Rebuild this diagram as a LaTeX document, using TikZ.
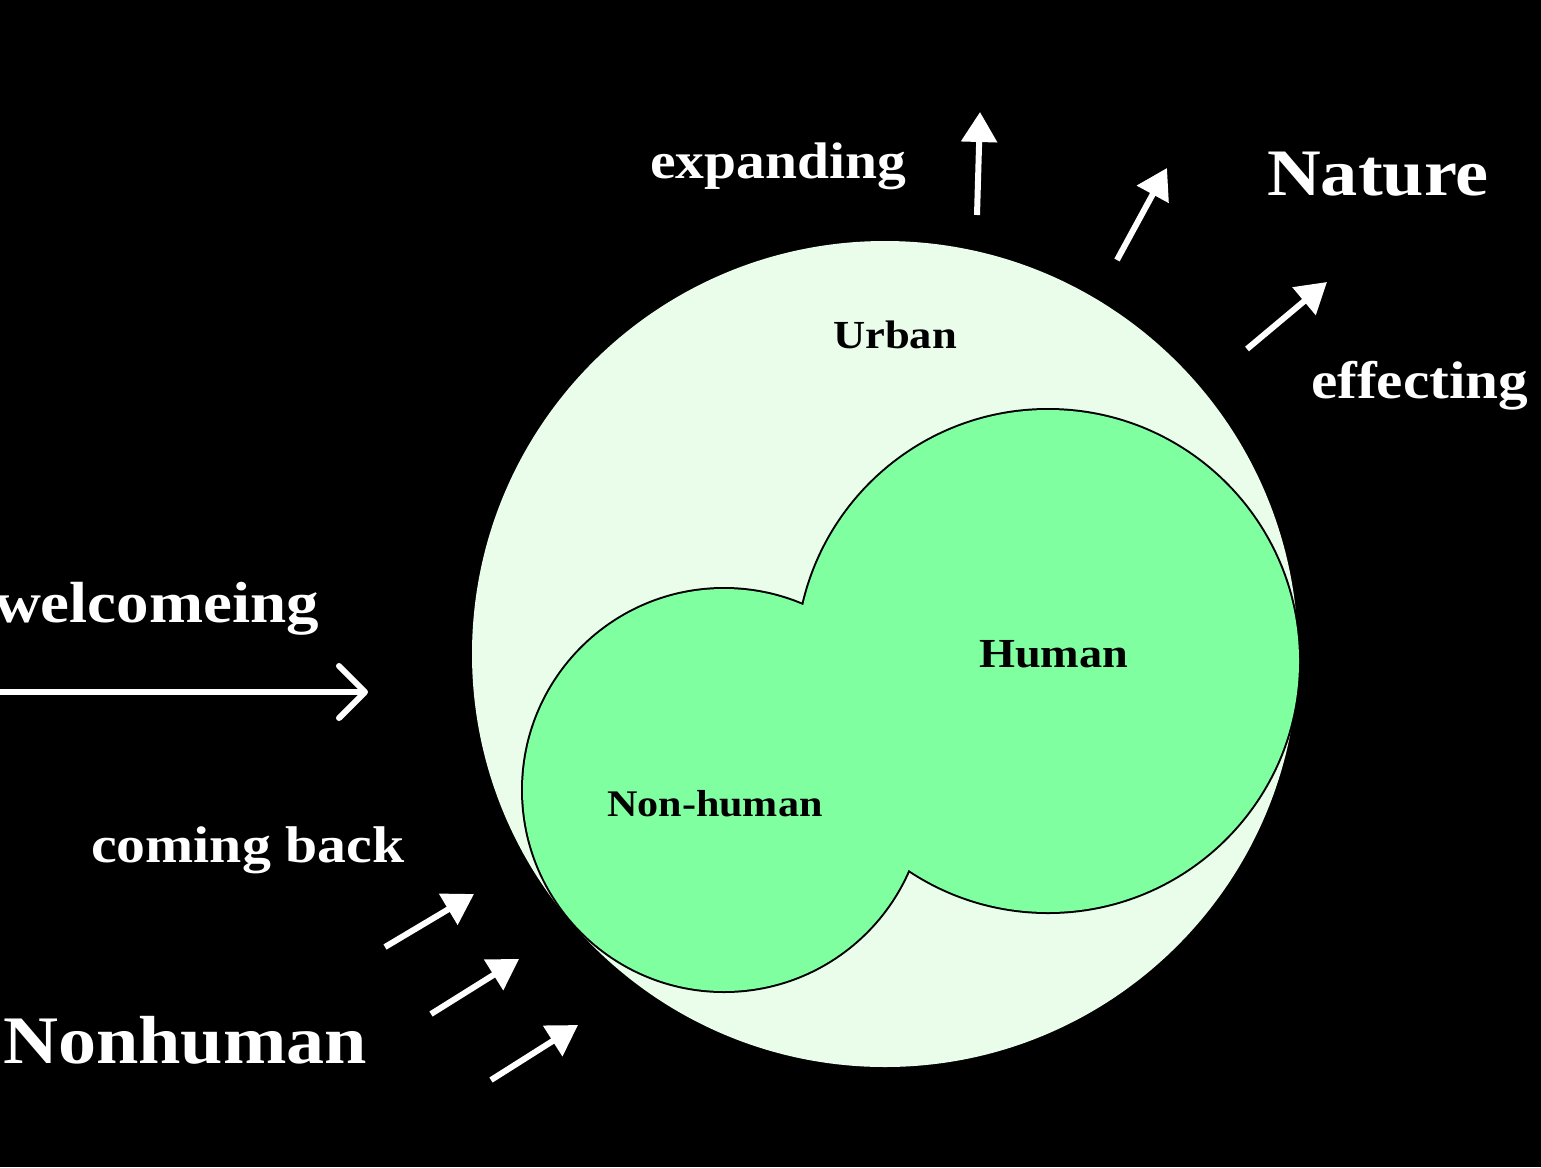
\documentclass[tikz,border=0pt]{standalone}
\usepackage{fontspec}
\newfontfamily\labfont{Liberation Serif}[FakeStretch=1.12]
\usetikzlibrary{arrows.meta}
\definecolor{urbanfill}{HTML}{E9FDEA}
\definecolor{nhgreen}{HTML}{80FFA0}
\begin{document}
\begin{tikzpicture}[x=1pt,y=-1pt,
  lab/.style={font=\labfont\bfseries\fontsize{#1}{#1}\selectfont, text=white, inner sep=0pt},
  innerlab/.style={font=\labfont\bfseries\fontsize{#1}{#1}\selectfont, text=black, inner sep=0pt},
  blob/.style={circle, inner sep=0pt, outer sep=0pt, minimum size=#1},
  warrow/.style={draw=white, line width=6pt, -{Triangle[length=30pt,width=35pt]}},
  wbarb/.style={draw=white, line width=6pt, line cap=round,
     -{Straight Barb[length=26pt,width=52pt,round]}}]
\fill[black] (0,0) rectangle (1541,1167);
\useasboundingbox (0,0) rectangle (1541,1167);
\clip (0,0) rectangle (1541,1167);

% big urban circle
\node[blob=826pt, fill=urbanfill] (urban) at (885,654) {};

% union of human and non-human circles
\node[blob=502pt, draw=black, line width=4pt] (humanout) at (1048,661) {};
\node[blob=402pt, draw=black, line width=4pt] (nhout) at (724,790) {};
\node[blob=502pt, fill=nhgreen] (human) at (humanout) {};
\node[blob=402pt, fill=nhgreen] (nh) at (nhout) {};

% inner labels
\node[innerlab=39.8, anchor=base west] (urbantxt) at (833,348) {Urban};
\node[innerlab=41.3, anchor=base west] (humantxt) at (979,667) {Human};
\node[innerlab=37.6, anchor=base west] (nhtxt) at (607,816) {Non-human};

% outer labels
\node[lab=51.4, anchor=base west] (expanding) at (650,178) {expanding};
\node[lab=66.4, anchor=base west] (nature) at (1267,195) {Nature};
\node[lab=52.9, anchor=base west] (effecting) at (1311,398) {effecting};
\node[lab=58, anchor=base east] (welcome) at (319,622) {welcomeing};
\node[lab=51.6, anchor=base west] (coming) at (91,862) {coming back};
\node[lab=68, anchor=base west] (nonhuman) at (3,1063) {Nonhuman};

% arrows
\coordinate (e1s) at (977,215); \coordinate (e1t) at (980,112);
\coordinate (e2s) at (1117,260); \coordinate (e2t) at (1167,168);
\coordinate (e3s) at (1247,349); \coordinate (e3t) at (1327,282);
\draw[warrow] (e1s) -- (e1t);
\draw[warrow] (e2s) -- (e2t);
\draw[warrow] (e3s) -- (e3t);

\coordinate (ws) at (-10,692); \coordinate (wt) at (368,692);
\draw[wbarb] (ws) -- (wt);

\coordinate (b1s) at (385,947); \coordinate (b1t) at (474,894);
\coordinate (b2s) at (431,1014); \coordinate (b2t) at (519,959);
\coordinate (b3s) at (491,1080); \coordinate (b3t) at (578,1025);
\draw[warrow] (b1s) -- (b1t);
\draw[warrow] (b2s) -- (b2t);
\draw[warrow] (b3s) -- (b3t);
\end{tikzpicture}
\end{document}
